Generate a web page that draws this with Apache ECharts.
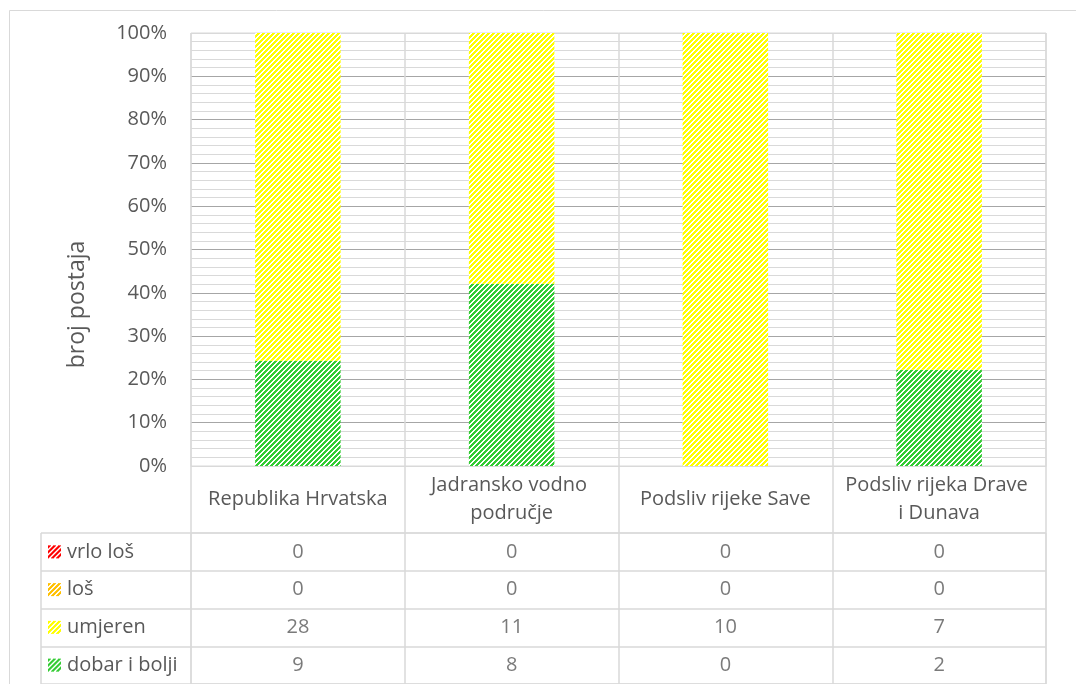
<!DOCTYPE html>
<html>
<head>
<meta charset="utf-8">
<script src="https://cdn.jsdelivr.net/npm/echarts@6/dist/echarts.min.js"></script>
<style>
  html, body { margin: 0; padding: 0; background: #ffffff; }
  #chart { width: 1076px; height: 684px; }
</style>
</head>
<body>
<div id="chart"></div>
<script>
// Categories (river basin areas)
const categories = ['Republika Hrvatska', 'Jadransko vodno područje', 'Podsliv rijeke Save', 'Podsliv rijeka Drave i Dunava'];

// Number of stations per status class
const vrloLos = [0, 0, 0, 0];
const los = [0, 0, 0, 0];
const umjeren = [28, 11, 10, 7];
const dobarIBolji = [9, 8, 0, 2];

// Status classes as shown in the data table (top to bottom)
const classNames = ['vrlo loš', 'loš', 'umjeren', 'dobar i bolji'];
const classValues = [vrloLos, los, umjeren, dobarIBolji];
const classColors = ['#ff0000', '#ffc000', '#ffff00', '#33cc33'];

const FONT = "'Open Sans', 'DejaVu Sans', sans-serif";
const TEXT = '#595959';
const LIGHT = '#d9d9d9';
const DARK = '#a6a6a6';

// Diagonal hatch tile ("/" stripes on white)
function hatch(color, size) {
  const c = document.createElement('canvas');
  c.width = size; c.height = size;
  const ctx = c.getContext('2d');
  ctx.fillStyle = '#ffffff';
  ctx.fillRect(0, 0, size, size);
  ctx.fillStyle = color;
  for (let y = 0; y < size; y++) {
    for (let x = 0; x < size; x++) {
      if ((x + y) % 5 < 3) ctx.fillRect(x, y, 1, 1);
    }
  }
  return c;
}

// Totals per category, used for the 100% stack
const totals = categories.map((_, i) => classValues.reduce((s, arr) => s + arr[i], 0));
const pct = arr => arr.map((v, i) => totals[i] ? v / totals[i] * 100 : 0);

// Bars stacked bottom-up: dobar i bolji, umjeren, loš, vrlo loš
const barSeries = [3, 2, 1, 0].map(k => ({
  name: classNames[k],
  type: 'bar',
  stack: 'total',
  xAxisIndex: 0,
  yAxisIndex: 0,
  barWidth: '40%',
  data: pct(classValues[k]),
  itemStyle: { color: { image: hatch(classColors[k], 5), repeat: 'repeat' } },
  emphasis: { disabled: true }
}));

// Data table cells
const tableData = [];
classNames.forEach((name, r) => {
  categories.forEach((cat, c) => {
    tableData.push([c, name, classValues[r][c]]);
  });
});

// Legend keys in the table row headers
const rich = { t: { fontFamily: FONT, fontSize: 20, color: TEXT, padding: [0, 0, 0, 6] } };
classColors.forEach((col, i) => {
  rich['k' + i] = { width: 13, height: 13, backgroundColor: { image: hatch(col, 13) } };
});

// Split line colours: outer edges light, inner major lines darker
const ySplitColors = [LIGHT, DARK, DARK, DARK, DARK, DARK, DARK, DARK, DARK, DARK, LIGHT];

const chart = echarts.init(document.getElementById('chart'), null, { renderer: 'canvas' });
chart.setOption({
  animation: false,
  backgroundColor: '#ffffff',
  textStyle: { fontFamily: FONT },
  grid: [
    { left: 191, right: 30, top: 33, height: 433, show: true, borderColor: LIGHT, borderWidth: 1 },
    { left: 191, right: 30, top: 533, height: 152, show: true, borderColor: LIGHT, borderWidth: 1 }
  ],
  xAxis: [
    {
      type: 'category',
      gridIndex: 0,
      data: categories,
      axisLine: { show: true, lineStyle: { color: LIGHT } },
      axisTick: { show: true, interval: 0, length: 67, lineStyle: { color: LIGHT, width: 1.5 } },
      splitLine: { show: true, interval: 0, lineStyle: { color: LIGHT, width: 1.5 } },
      axisLabel: {
        interval: 0, margin: 33, verticalAlign: 'middle', lineHeight: 28,
        width: 189, overflow: 'break', fontFamily: FONT, fontSize: 20, color: TEXT
      }
    },
    {
      type: 'category',
      gridIndex: 1,
      data: categories,
      axisLine: { show: false },
      axisTick: { show: false },
      axisLabel: { show: false },
      splitLine: { show: true, interval: 0, lineStyle: { color: LIGHT, width: 1.5 } }
    }
  ],
  yAxis: [
    {
      type: 'value',
      gridIndex: 0,
      min: 0, max: 100, interval: 10,
      name: 'broj postaja',
      nameLocation: 'middle',
      nameGap: 102,
      nameRotate: 90,
      nameTextStyle: { fontFamily: FONT, fontSize: 23, color: TEXT, padding: [0, 110, 0, 0] },
      axisLine: { show: false },
      axisTick: { show: false },
      axisLabel: { formatter: '{value}%', margin: 24, fontFamily: FONT, fontSize: 20, color: TEXT },
      splitLine: { show: true, lineStyle: { color: ySplitColors, width: 1 } },
      minorTick: { show: false, splitNumber: 5 },
      minorSplitLine: { show: true, lineStyle: { color: LIGHT, width: 1 } }
    },
    {
      type: 'category',
      gridIndex: 1,
      data: classNames,
      inverse: true,
      axisLine: { show: false },
      axisTick: { show: true, interval: 0, length: 150, lineStyle: { color: LIGHT, width: 1.5 } },
      splitLine: { show: true, interval: 0, lineStyle: { color: LIGHT, width: 1.5 } },
      axisLabel: {
        interval: 0, align: 'left', margin: 143,
        formatter: (v, i) => '{k' + i + '|}{t|' + v + '}',
        rich: rich
      }
    }
  ],
  graphic: [
    { type: 'rect', silent: true, shape: { x: 9.5, y: 10.5, width: 1100, height: 700 }, style: { fill: null, stroke: LIGHT, lineWidth: 1 }, z: -10 },
    { type: 'line', silent: true, shape: { x1: 41, y1: 533, x2: 41, y2: 685 }, style: { stroke: LIGHT, lineWidth: 1.5 } }
  ],
  series: barSeries.concat([{
    type: 'scatter',
    xAxisIndex: 1,
    yAxisIndex: 1,
    symbolSize: 1,
    itemStyle: { color: 'transparent' },
    emphasis: { disabled: true },
    data: tableData,
    label: {
      show: true, position: 'inside',
      formatter: p => String(p.value[2]),
      fontFamily: FONT, fontSize: 20, color: TEXT
    }
  }])
});
</script>
</body>
</html>
